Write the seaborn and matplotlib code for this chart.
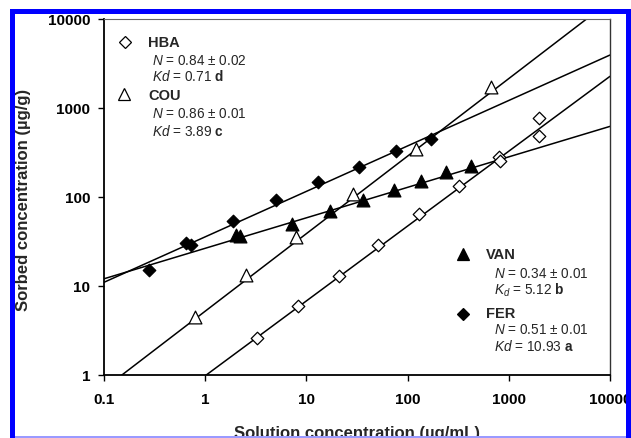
import numpy as np
import pandas as pd
import matplotlib
matplotlib.use("Agg")
import matplotlib.pyplot as plt
import seaborn as sns
from matplotlib.patches import Rectangle
from matplotlib.ticker import NullLocator

sns.set_theme(style="white")
plt.rcParams["font.family"] = ["Liberation Sans", "DejaVu Sans"]
plt.rcParams["mathtext.fontset"] = "custom"
plt.rcParams["mathtext.rm"] = "Liberation Sans"
plt.rcParams["mathtext.it"] = "Liberation Sans:italic"
plt.rcParams["mathtext.bf"] = "Liberation Sans:bold"

# ---- data ----
hba_x = [3.24, 8.34, 20.8, 51.5, 130, 321, 800, 820, 2005, 2005]
hba_y = [2.58, 5.9, 12.8, 28.4, 64.4, 132, 280, 250, 766, 481]

cou_x = [0.80, 2.55, 7.9, 29, 120, 670]
cou_y = [4.45, 13.1, 35.2, 108, 346, 1700]

van_x = [2.0, 2.2, 7.2, 17.1, 36.5, 73.6, 135, 238, 420]
van_y = [37, 36, 50, 70, 91, 118, 149, 189, 221]

fer_x = [0.28, 0.65, 0.73, 1.88, 5.0, 13.1, 33.3, 76.5, 172]
fer_y = [15.2, 30, 29, 54, 92.5, 146, 216, 323, 448]

series = ["HBA", "COU", "VAN", "FER"]
fit_N = [0.84, 0.87, 0.342, 0.51]      # drawn line slopes (log-log)
fit_a = [0.98, 5.2, 26.4, 35.5]        # drawn line value at x = 1
line_x = [0.1, 10000]

x_ticks = [0.1, 1, 10, 100, 1000, 10000]
x_tick_labels = ["0.1", "1", "10", "100", "1000", "10000"]
y_ticks = [1, 10, 100, 1000, 10000]
y_tick_labels = ["1", "10", "100", "1000", "10000"]

legend_head = ["HBA", "COU", "VAN", "FER"]
legend_N = ["$\\mathit{N}$ = 0.84 \u00b1 0.02", "$\\mathit{N}$ = 0.86 \u00b1 0.01",
            "$\\mathit{N}$ = 0.34 \u00b1 0.01", "$\\mathit{N}$ = 0.51 \u00b1 0.01"]
legend_K = ["$\\mathit{Kd}$ = 0.71 $\\mathbf{d}$", "$\\mathit{Kd}$ = 3.89 $\\mathbf{c}$",
            "$\\mathit{K_d}$ = 5.12 $\\mathbf{b}$", "$\\mathit{Kd}$ = 10.93 $\\mathbf{a}$"]

# ---- styles ----
W, H = 631, 439
marker = {"HBA": "D", "COU": "^", "VAN": "^", "FER": "D"}
face = {"HBA": "white", "COU": "white", "VAN": "black", "FER": "black"}
msize = {"HBA": 6.4, "COU": 9.2, "VAN": 9.2, "FER": 6.4}

frames = []
for name, xs, ys in [("HBA", hba_x, hba_y), ("COU", cou_x, cou_y),
                     ("VAN", van_x, van_y), ("FER", fer_x, fer_y)]:
    frames.append(pd.DataFrame({"x": xs, "y": ys, "series": name}))
df = pd.concat(frames, ignore_index=True)

fig = plt.figure(figsize=(W / 100, H / 100), dpi=100)
fig.patch.set_facecolor("white")
ax = fig.add_axes([104 / W, 1 - 376 / H, (610 - 104) / W, (376 - 19.5) / H])
ax.set_facecolor("white")

# fit lines
for name, N, a in zip(series, fit_N, fit_a):
    lx = np.array(line_x, dtype=float)
    ly = a * lx ** N
    sns.lineplot(x=lx, y=ly, color="black", lw=1.1, ax=ax, estimator=None,
                 sort=False, zorder=2)

# points
for name in series:
    sub = df[df["series"] == name]
    sns.scatterplot(data=sub, x="x", y="y", marker=marker[name],
                    s=msize[name] ** 2, color=face[name], edgecolor="black",
                    linewidth=0.9, ax=ax, zorder=3, legend=False)

ax.set_xscale("log")
ax.set_yscale("log")
ax.set_xlim(0.1, 10000)
ax.set_ylim(1, 10000)
ax.set_xticks(x_ticks, x_tick_labels)
ax.set_yticks(y_ticks, y_tick_labels)
ax.xaxis.set_minor_locator(NullLocator())
ax.yaxis.set_minor_locator(NullLocator())
ax.set_xlabel("")
ax.set_ylabel("")
ax.tick_params(axis="both", which="major", direction="out", length=4.5,
               width=1.0, color="black", labelsize=11, labelcolor="black",
               bottom=True, left=True)
ax.tick_params(axis="x", pad=8)
ax.tick_params(axis="y", pad=5.5)
for lab in ax.get_xticklabels() + ax.get_yticklabels():
    lab.set_fontweight("bold")

for side in ["left", "bottom"]:
    ax.spines[side].set_color("black")
    ax.spines[side].set_linewidth(1.3)
ax.spines["top"].set_color("#666666")
ax.spines["top"].set_linewidth(0.8)
ax.spines["right"].set_color("#333333")
ax.spines["right"].set_linewidth(1.0)


def fc(px, py):
    return px / W, 1 - py / H


# axis titles
fig.text(*fc(23.5, 200), "Sorbed concentration (\u00b5g/g)", rotation=90,
         ha="center", va="center", fontsize=12, fontweight="bold")
fig.text(*fc(357, 438.5), "Solution concentration (\u00b5g/mL)",
         ha="center", va="baseline", fontsize=12, fontweight="bold")

# in-plot legend blocks
blocks = [
    # marker pos, head pos, N pos, K pos
    ((125, 43), (148, 43), (152, 61), (152, 77)),
    ((124, 95), (148, 96), (152, 114), (152, 131)),
    ((463, 255), (486, 255), (494, 273.5), (494, 290.5)),
    ((463, 315), (486, 314.5), (494, 330.5), (494, 347)),
]
for i, name in enumerate(series):
    mpos, hpos, npos, kpos = blocks[i]
    mx, my = fc(*mpos)
    ax.plot([mx], [my], transform=fig.transFigure, marker=marker[name],
            markersize=msize[name], markerfacecolor=face[name],
            markeredgecolor="black", markeredgewidth=0.9, linestyle="none",
            clip_on=False, zorder=5)
    fig.text(*fc(*hpos), legend_head[i], ha="left", va="center",
             fontsize=10.5, fontweight="bold")
    fig.text(*fc(*npos), legend_N[i], ha="left", va="center", fontsize=9.8)
    fig.text(*fc(*kpos), legend_K[i], ha="left", va="center", fontsize=9.8)

# blue frame around the figure
blue = "#0000ff"
for (x0, y0, w, h, c) in [
    (10, 10, 5, H - 10, blue),       # left
    (10, 10, W - 10, 5, blue),       # top
    (626, 10, 5, H - 10, blue),      # right
    (15, 437.3, 611, 1.7, "#9a9aff"),  # bottom light line
]:
    fig.add_artist(Rectangle((x0 / W, 1 - (y0 + h) / H), w / W, h / H,
                             transform=fig.transFigure, facecolor=c,
                             edgecolor="none", zorder=10))

fig.savefig("out.png", dpi=100, facecolor="white")
